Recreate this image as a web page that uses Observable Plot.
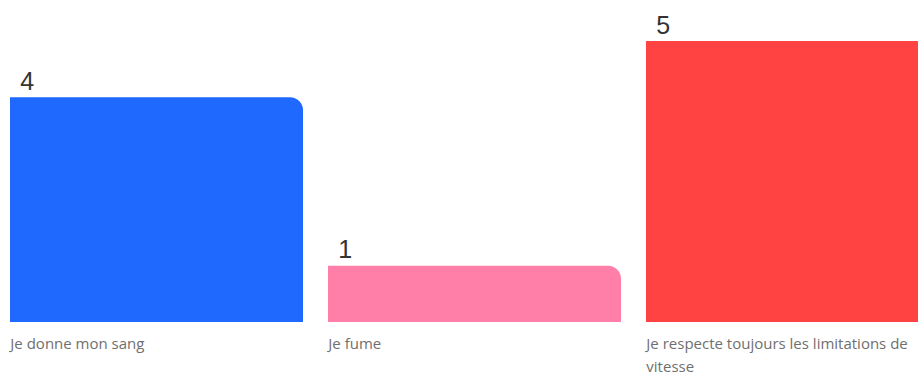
<!DOCTYPE html>
<html><head><meta charset="utf-8">
<script src="https://cdn.jsdelivr.net/npm/d3@7"></script>
<script src="https://cdn.jsdelivr.net/npm/@observablehq/plot@0.6"></script>
<style>
html,body{margin:0;padding:0;background:#fff;overflow:hidden}
svg{overflow:visible}
</style>
</head><body><div id="chart"></div>
<script>
const categories = ["Je donne mon sang", "Je fume", "Je respecte toujours les limitations de\nvitesse"];
const values = [4, 1, 5];
const colors = ["#1f69ff", "#ff7fa8", "#ff4242"];

const data = categories.map((c, i) => ({category: c, value: values[i], color: colors[i]}));

const xRange = [10, 940];
const padInner = 0.0785;
const band = (xRange[1] - xRange[0]) / (categories.length - padInner) * (1 - padInner);

const chart = Plot.plot({
  width: 918,
  height: 376,
  margin: 0,
  style: {overflow: "visible", background: "#fff"},
  x: {type: "band", domain: categories, range: xRange, paddingInner: padInner, paddingOuter: 0, axis: null},
  y: {domain: [0, 5], range: [322, 41], axis: null},
  marks: [
    Plot.barY(data, {x: "category", y: "value", fill: "color", rx2y1: 13}),
    Plot.text(data, {
      x: "category", y: "value", text: d => String(d.value),
      textAnchor: "start", lineAnchor: "bottom", dx: -band / 2 + 10, dy: -8,
      fontSize: 25, fill: "#333", fontFamily: "Liberation Sans, Arial, sans-serif"
    }),
    Plot.text(data, {
      x: "category", y: 0, text: "category",
      textAnchor: "start", lineAnchor: "top", dx: -band / 2, dy: 11,
      fontSize: 15, fill: "#6f6f6f", lineHeight: 1.5, letterSpacing: "-0.1px",
      fontFamily: "Open Sans, sans-serif"
    })
  ]
});
document.getElementById("chart").append(chart);
</script>
</body></html>
